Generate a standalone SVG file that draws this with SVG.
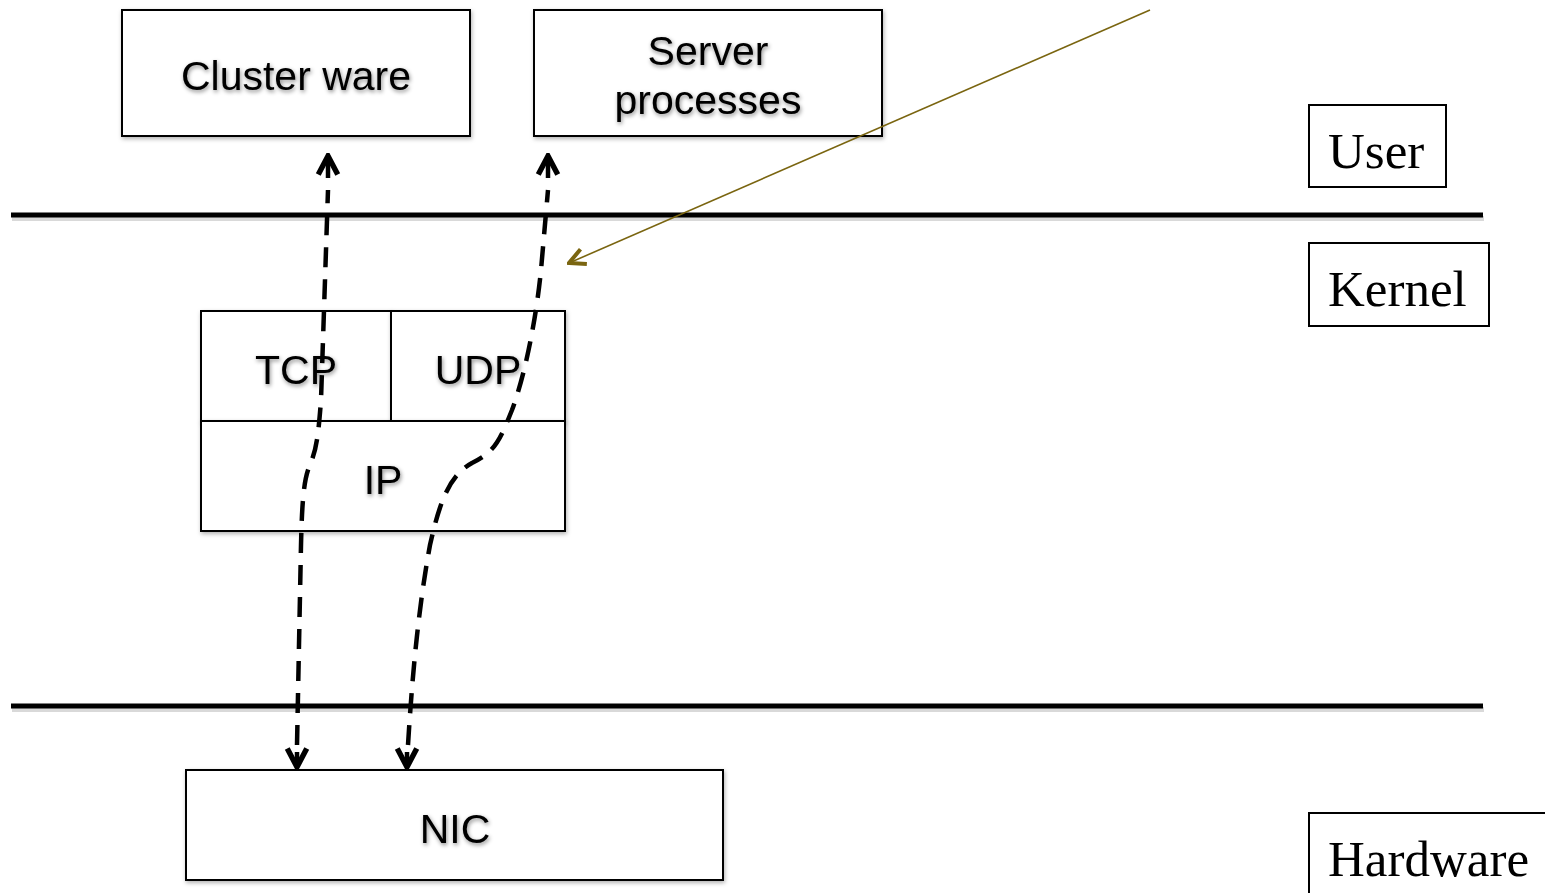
<svg xmlns="http://www.w3.org/2000/svg" width="1545" height="893" viewBox="0 0 1545 893">
<style>
.box{fill:#fff;stroke:#000;stroke-width:2;filter:url(#sh)}
.lbl{font-family:"Liberation Sans",Arial,sans-serif;font-size:41px;fill:#000;text-anchor:middle;filter:url(#tsh)}
.lay{font-family:"Liberation Serif","Times New Roman",serif;font-size:51px;fill:#000}
.lbox{fill:#fff;stroke:#000;stroke-width:2}
.bar{stroke:#000;stroke-width:5}
.dash{fill:none;stroke:#000;stroke-width:4.5;stroke-dasharray:20 12}
.ah{fill:none;stroke:#000;stroke-width:4.5}
</style>
<defs>
<filter id="sh" x="-10%" y="-10%" width="120%" height="140%"><feDropShadow dx="1" dy="2" stdDeviation="2" flood-opacity="0.3"/></filter>
<filter id="tsh" x="-10%" y="-20%" width="120%" height="150%"><feDropShadow dx="1" dy="2" stdDeviation="2" flood-opacity="0.45"/></filter>
<marker id="ahb" viewBox="0 0 24 24" refX="21" refY="12" markerWidth="26" markerHeight="26" orient="auto" markerUnits="userSpaceOnUse">
<path d="M4,3 L21,12 L4,21" fill="none" stroke="#000" stroke-width="5"/>
</marker>
<marker id="aho" viewBox="0 0 24 24" refX="22" refY="12" markerWidth="24" markerHeight="24" orient="auto" markerUnits="userSpaceOnUse">
<path d="M6,4 L22,12 L6,20" fill="none" stroke="#7a6510" stroke-width="4"/>
</marker>
</defs>
<rect width="1545" height="893" fill="#fff"/>
<g id="separators">
<rect x="12" y="216" width="1472" height="5" fill="#000" opacity="0.15"/>
<rect x="12" y="707" width="1472" height="5" fill="#000" opacity="0.15"/>
<line class="bar" x1="11" y1="215" x2="1483" y2="215"/>
<line class="bar" x1="11" y1="706" x2="1483" y2="706"/>
</g>
<g id="clusterware"><rect class="box" x="122" y="10" width="348" height="126"/><text class="lbl" x="296" y="90">Cluster ware</text></g>
<g id="server"><rect class="box" x="534" y="10" width="348" height="126"/><text class="lbl" x="708" y="65">Server</text><text class="lbl" x="708" y="114">processes</text></g>
<g id="tcp"><rect class="box" x="201" y="311" width="190" height="110"/><text class="lbl" x="296" y="384">TCP</text></g>
<g id="udp"><rect class="box" x="391" y="311" width="174" height="110"/><text class="lbl" x="478" y="384">UDP</text></g>
<g id="ip"><rect class="box" x="201" y="421" width="364" height="110"/><text class="lbl" x="383" y="494">IP</text></g>
<g id="nic"><rect class="box" x="186" y="770" width="537" height="110"/><text class="lbl" x="455" y="843">NIC</text></g>
<g id="user"><rect class="lbox" x="1309" y="105" width="137" height="82"/><text class="lay" x="1328" y="168">User</text></g>
<g id="kernel"><rect class="lbox" x="1309" y="243" width="180" height="83"/><text class="lay" x="1328" y="306">Kernel</text></g>
<g id="hardware"><rect class="lbox" x="1309" y="813" width="250" height="90"/><text class="lay" x="1328" y="876">Hardware</text></g>
<g id="connectors">
<path class="dash" d="M297,745 L301,545 C302,500 304,478 310,465 C316,450 318,440 321,400 L328,190"/>
<path class="dash" d="M408,745 C412,680 418,610 430,545 C440,500 450,475 472,463 C495,452 500,440 512,410 C525,375 536,320 541,270 L548,190"/>
<path class="ah" d="M297,752 L297,767" marker-end="url(#ahb)"/>
<path class="ah" d="M407,752 L407,767" marker-end="url(#ahb)"/>
<path class="ah" d="M328,178 L328,156" marker-end="url(#ahb)"/>
<path class="ah" d="M548,178 L548,156" marker-end="url(#ahb)"/>
<path d="M1150,10 L569,263" fill="none" stroke="#7a6510" stroke-width="1.6" marker-end="url(#aho)"/>
</g>
</svg>
